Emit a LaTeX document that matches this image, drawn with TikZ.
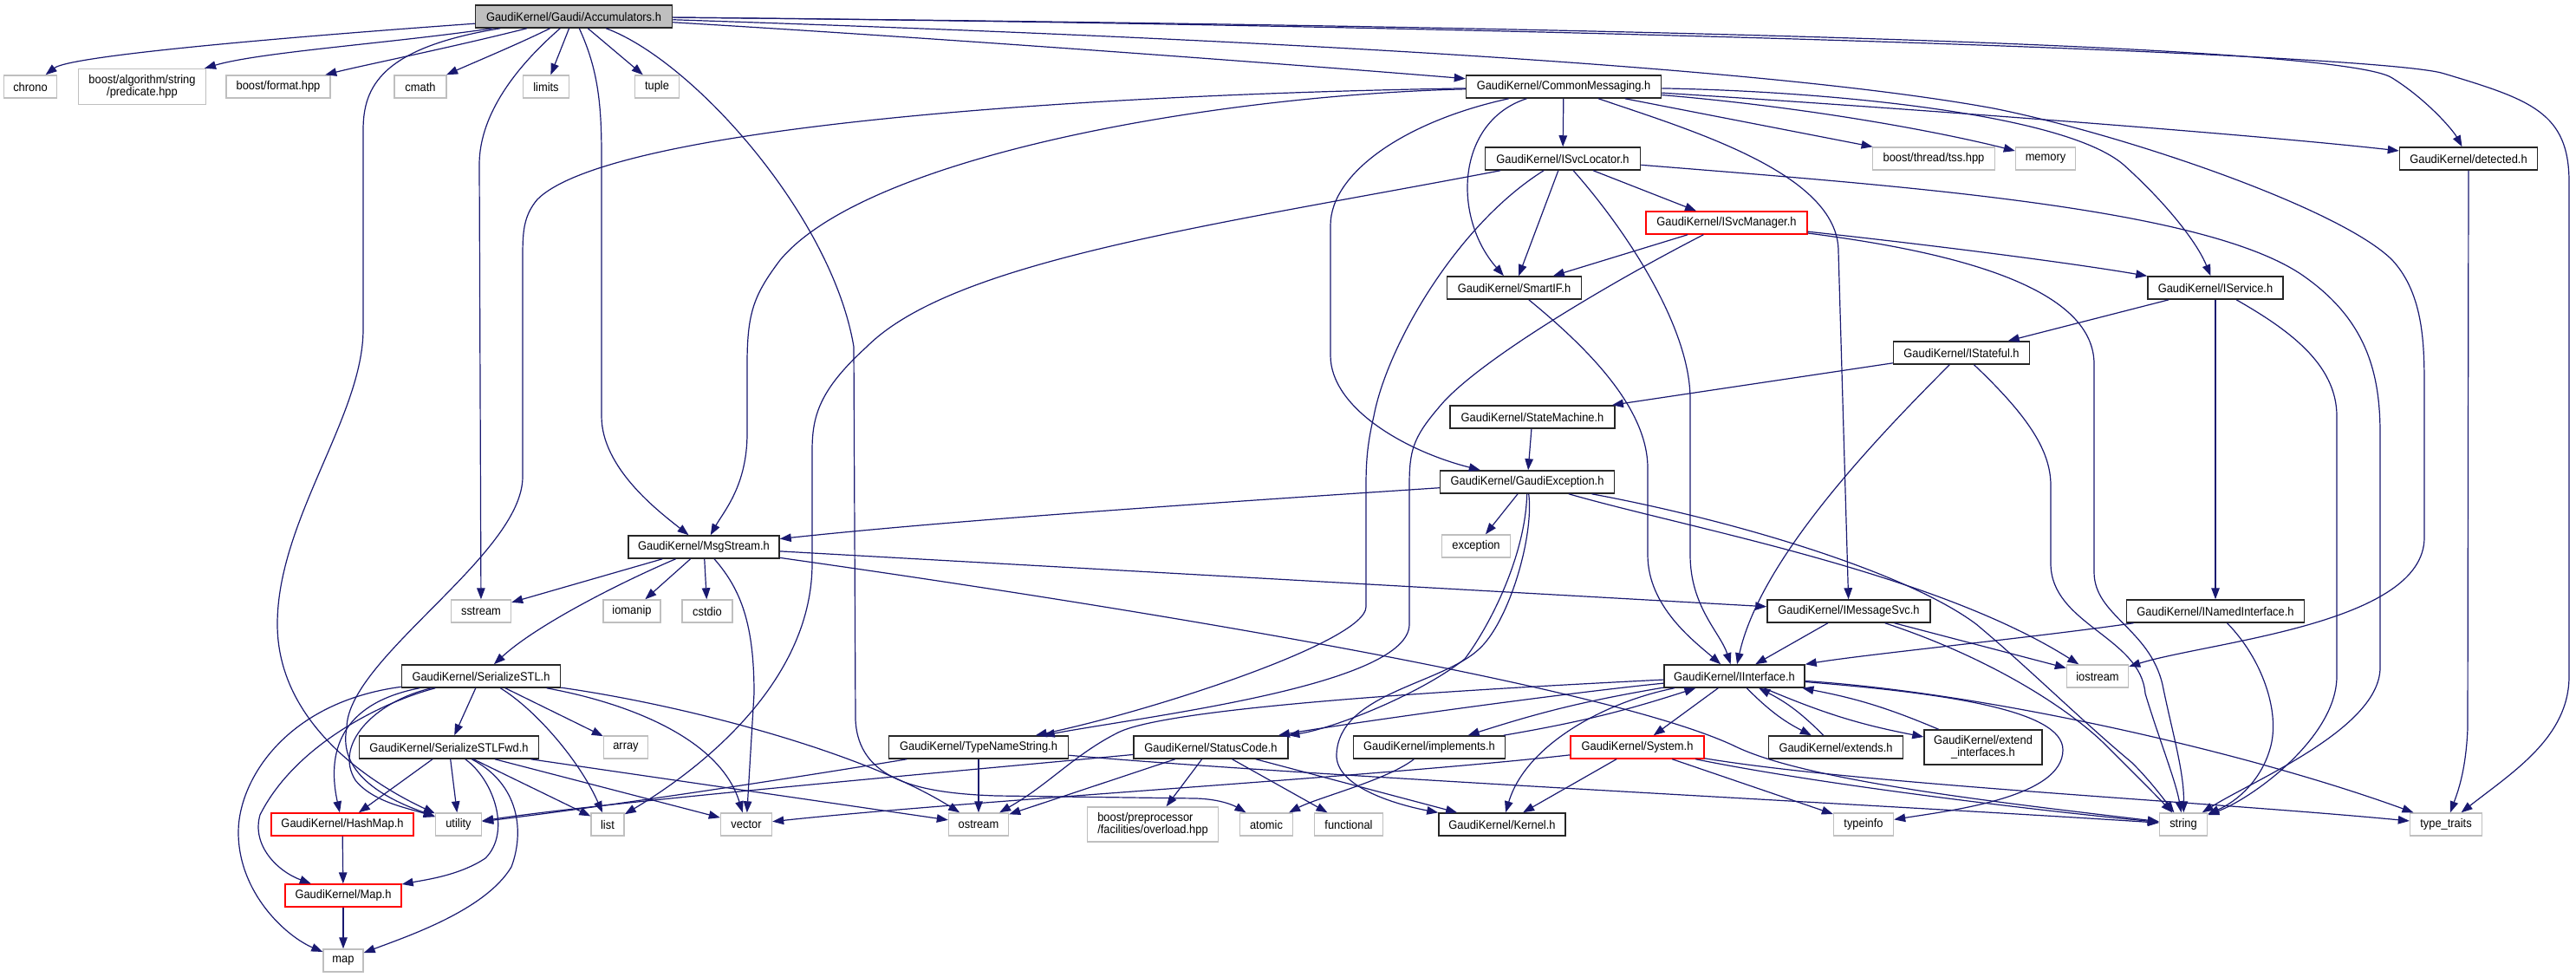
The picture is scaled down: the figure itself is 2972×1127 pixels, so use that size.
\documentclass[tikz,border=0pt]{standalone}
\usepackage{fontspec}
\newfontfamily\dxfont{Liberation Sans}[FakeStretch=0.92]
\usetikzlibrary{arrows.meta}
\definecolor{edgeblue}{HTML}{191970}
\definecolor{extgray}{HTML}{BFBFBF}
\newcommand{\dxf}{\dxfont\fontsize{14pt}{14.5pt}\selectfont}
\begin{document}
\begin{tikzpicture}[x=1pt,y=-1pt,
  nd/.style={draw, fill=white, minimum height=26pt, inner xsep=2pt, inner ysep=1pt, font=\dxf, text=black},
  doc/.style={nd, draw=black!85, line width=1.5pt},
  ext/.style={nd, draw=extgray, line width=1.4pt},
  trunc/.style={nd, draw=red, line width=1.4pt},
  root/.style={doc, fill=extgray},
  e/.style={draw=edgeblue, line width=1.2pt, -{Triangle[length=13pt,width=9.5pt]}},
]
\useasboundingbox (0,0) rectangle (2972,1127);
% ---------------- nodes
\node[root, minimum width=227pt] (acc) at (662,19) {GaudiKernel/Gaudi/Accumulators.h};
\node[ext, minimum width=61pt] (chrono) at (35,100) {chrono};
\node[ext, minimum width=147pt, minimum height=41pt, align=center] (balg) at (164,100) {boost/algorithm/string\\/predicate.hpp};
\node[ext, minimum width=120pt] (bfmt) at (321,100) {boost/format.hpp};
\node[ext, minimum width=60pt] (cmath) at (485,100) {cmath};
\node[ext, minimum width=53pt] (limits) at (630,100) {limits};
\node[ext, minimum width=51pt] (tuple) at (758,100) {tuple};
\node[doc, minimum width=225pt] (cm) at (1804,100) {GaudiKernel/CommonMessaging.h};
\node[doc, minimum width=179pt] (svcloc) at (1803,183) {GaudiKernel/ISvcLocator.h};
\node[ext, minimum width=141pt] (btss) at (2231,183) {boost/thread/tss.hpp};
\node[ext, minimum width=69pt] (memory) at (2360,183) {memory};
\node[doc, minimum width=159pt] (detected) at (2848,183) {GaudiKernel/detected.h};
\node[trunc, minimum width=186pt] (svcmgr) at (1992,257) {GaudiKernel/ISvcManager.h};
\node[doc, minimum width=155pt] (smartif) at (1747,332) {GaudiKernel/SmartIF.h};
\node[doc, minimum width=156pt] (iservice) at (2556,332) {GaudiKernel/IService.h};
\node[doc, minimum width=157pt] (istateful) at (2263,407) {GaudiKernel/IStateful.h};
\node[doc, minimum width=190pt] (statemach) at (1768,481) {GaudiKernel/StateMachine.h};
\node[doc, minimum width=201pt] (gexc) at (1762,556) {GaudiKernel/GaudiException.h};
\node[ext, minimum width=79pt] (exception) at (1703,630) {exception};
\node[doc, minimum width=174pt] (msgstream) at (812,631) {GaudiKernel/MsgStream.h};
\node[ext, minimum width=69pt] (sstream) at (555,705) {sstream};
\node[ext, minimum width=66pt] (iomanip) at (729,705) {iomanip};
\node[ext, minimum width=58pt] (cstdio) at (816,705) {cstdio};
\node[doc, minimum width=188pt] (imsgsvc) at (2133,705) {GaudiKernel/IMessageSvc.h};
\node[doc, minimum width=205pt] (inamed) at (2556,705) {GaudiKernel/INamedInterface.h};
\node[doc, minimum width=183pt] (sstl) at (555,780) {GaudiKernel/SerializeSTL.h};
\node[doc, minimum width=162pt] (iiface) at (2001,780) {GaudiKernel/IInterface.h};
\node[ext, minimum width=71pt] (iostream) at (2420,780) {iostream};
\node[doc, minimum width=207pt] (sstlfwd) at (518,862) {GaudiKernel/SerializeSTLFwd.h};
\node[ext, minimum width=51pt] (array) at (722,862) {array};
\node[doc, minimum width=207pt] (tns) at (1129,862) {GaudiKernel/TypeNameString.h};
\node[doc, minimum width=178pt] (statuscode) at (1397,862) {GaudiKernel/StatusCode.h};
\node[doc, minimum width=175pt] (implements) at (1649,862) {GaudiKernel/implements.h};
\node[trunc, minimum width=154pt] (system) at (1889,862) {GaudiKernel/System.h};
\node[doc, minimum width=155pt] (extends) at (2118,862) {GaudiKernel/extends.h};
\node[doc, minimum width=136pt, minimum height=40pt, align=center] (extif) at (2288,862) {GaudiKernel/extend\\\_interfaces.h};
\node[trunc, minimum width=164pt] (hashmap) at (395,951) {GaudiKernel/HashMap.h};
\node[ext, minimum width=53pt] (utility) at (529,951) {utility};
\node[ext, minimum width=38pt] (list) at (701,951) {list};
\node[ext, minimum width=59pt] (vector) at (861,951) {vector};
\node[ext, minimum width=69pt] (ostream) at (1129,951) {ostream};
\node[ext, minimum width=151pt, minimum height=40pt, align=left] (bpp) at (1330,951) {boost/preprocessor\\/facilities/overload.hpp};
\node[ext, minimum width=61pt] (atomic) at (1461,951) {atomic};
\node[ext, minimum width=79pt] (functional) at (1556,951) {functional};
\node[doc, minimum width=146pt] (kernel) at (1733,951) {GaudiKernel/Kernel.h};
\node[ext, minimum width=69pt] (typeinfo) at (2150,951) {typeinfo};
\node[ext, minimum width=55pt] (string) at (2519,951) {string};
\node[ext, minimum width=83pt] (typetraits) at (2822,951) {type\_traits};
\node[trunc, minimum width=134pt] (mapH) at (396,1033) {GaudiKernel/Map.h};
\node[ext, minimum width=46pt] (map) at (396,1108) {map};
% ---------------- edges: Accumulators
\draw[e] (acc) .. controls (300,45) and (80,65) .. (chrono);
\draw[e] (acc) .. controls (450,50) and (300,60) .. (balg);
\draw[e] (acc) .. controls (520,55) and (420,75) .. (bfmt);
\draw[e] (acc) .. controls (600,50) and (540,75) .. (cmath);
\draw[e] (acc) -- (limits);
\draw[e] (acc) -- (tuple);
\draw[e] (acc) .. controls (440,55) and (419,100) .. (419,150) -- (419,380) .. controls (419,480) and (320,600) .. (320,720) .. controls (320,830) and (420,900) .. (utility);
\draw[e] (acc) .. controls (615,60) and (553,120) .. (553,190) -- (sstream);
\draw[e] (acc) .. controls (690,80) and (694,120) .. (694,180) -- (694,480) .. controls (694,540) and (760,590) .. (msgstream);
\draw[e] (acc) .. controls (800,70) and (960,250) .. (985,400) -- (987,830) .. controls (990,900) and (1060,915) .. (1150,918) -- (1380,921) .. controls (1410,922) and (1425,930) .. (atomic);
\draw[e] (acc) .. controls (1100,45) and (1500,75) .. (cm);
\draw[e] (acc) .. controls (1300,40) and (2000,70) .. (2300,125) .. controls (2450,155) and (2700,240) .. (2760,300) .. controls (2797,340) and (2797,400) .. (2797,450) -- (2797,620) .. controls (2797,720) and (2550,740) .. (iostream);
\draw[e] (acc) .. controls (1800,30) and (2700,50) .. (2760,90) .. controls (2800,115) and (2830,150) .. (detected);
\draw[e] (acc) .. controls (1800,30) and (2750,62) .. (2820,85) .. controls (2920,115) and (2964,130) .. (2964,210) -- (2964,780) .. controls (2964,850) and (2900,890) .. (typetraits);
% CommonMessaging
\draw[e] (cm) -- (svcloc);
\draw[e] (cm) .. controls (1680,140) and (1675,250) .. (smartif);
\draw[e] (cm) .. controls (1400,110) and (1000,180) .. (900,300) .. controls (870,340) and (862,360) .. (862,420) -- (862,500) .. controls (862,560) and (835,590) .. (msgstream);
\draw[e] (cm) .. controls (1200,110) and (700,150) .. (620,230) .. controls (603,250) and (603,270) .. (603,300) -- (603,550) .. controls (603,640) and (400,760) .. (400,840) .. controls (390,890) and (440,920) .. (utility);
\draw[e] (cm) .. controls (1620,140) and (1535,200) .. (1535,260) -- (1535,410) .. controls (1535,470) and (1620,520) .. (gexc);
\draw[e] (cm) .. controls (1950,150) and (2121,200) .. (2121,290) -- (imsgsvc);
\draw[e] (cm) -- (btss);
\draw[e] (cm) .. controls (2100,105) and (2380,130) .. (2450,190) .. controls (2500,235) and (2535,280) .. (iservice);
\draw[e] (cm) .. controls (2200,125) and (2600,155) .. (detected);
\draw[e] (cm) .. controls (2100,125) and (2250,155) .. (memory);
% ISvcLocator
\draw[e] (svcloc) -- (svcmgr);
\draw[e] (svcloc) -- (smartif);
\draw[e] (svcloc) .. controls (1880,270) and (1950,380) .. (1950,460) -- (1950,640) .. controls (1950,700) and (1985,730) .. (iiface);
\draw[e] (svcloc) .. controls (2200,215) and (2550,240) .. (2660,320) .. controls (2730,370) and (2746,430) .. (2746,500) -- (2746,770) .. controls (2746,840) and (2600,900) .. (string);
\draw[e] (svcloc) .. controls (1400,260) and (1100,300) .. (1000,400) .. controls (945,450) and (937,480) .. (937,520) -- (937,650) .. controls (937,780) and (820,880) .. (list);
\draw[e] (svcloc) .. controls (1680,260) and (1600,400) .. (1585,480) .. controls (1578,510) and (1576,530) .. (1576,560) -- (1576,700) .. controls (1576,740) and (1330,820) .. (tns);
% ISvcManager
\draw[e] (svcmgr) -- (smartif);
\draw[e] (svcmgr) .. controls (1850,330) and (1700,420) .. (1660,470) .. controls (1630,505) and (1626,520) .. (1626,560) -- (1626,720) .. controls (1626,790) and (1330,825) .. (tns);
\draw[e] (svcmgr) .. controls (2250,285) and (2400,305) .. (iservice);
\draw[e] (svcmgr) .. controls (2250,290) and (2416,330) .. (2416,420) -- (2416,660) .. controls (2416,710) and (2480,725) .. (2495,790) .. controls (2505,840) and (2520,890) .. (string);
% SmartIF
\draw[e] (smartif) .. controls (1830,400) and (1901,470) .. (1901,540) -- (1901,640) .. controls (1901,700) and (1955,740) .. (iiface);
% IService
\draw[e] (iservice) -- (istateful);
\draw[e] (iservice) -- (inamed);
\draw[e] (iservice) .. controls (2640,380) and (2696,420) .. (2696,480) -- (2696,780) .. controls (2696,850) and (2600,920) .. (string);
% IStateful
\draw[e] (istateful) -- (statemach);
\draw[e] (istateful) .. controls (2150,520) and (2030,650) .. (iiface);
\draw[e] (istateful) .. controls (2340,480) and (2366,520) .. (2366,560) -- (2366,650) .. controls (2366,720) and (2470,735) .. (2475,800) .. controls (2490,850) and (2510,900) .. (string);
% StateMachine
\draw[e] (statemach) -- (gexc);
% GaudiException
\draw[e] (gexc) .. controls (1400,580) and (1100,600) .. (msgstream);
\draw[e] (gexc) -- (exception);
\draw[e] (gexc) .. controls (1770,620) and (1740,720) .. (1705,750) .. controls (1660,790) and (1545,800) .. (1542,870) .. controls (1540,910) and (1620,930) .. (kernel);
\draw[e] (gexc) .. controls (1760,640) and (1720,720) .. (1690,760) .. controls (1640,800) and (1540,840) .. (statuscode);
\draw[e] (gexc) .. controls (1950,610) and (2230,660) .. (iostream);
\draw[e] (gexc) .. controls (2000,600) and (2200,660) .. (2280,720) .. controls (2340,770) and (2400,830) .. (2460,880) .. controls (2480,900) and (2495,920) .. (string);
% MsgStream
\draw[e] (msgstream) -- (sstream);
\draw[e] (msgstream) .. controls (720,670) and (620,720) .. (sstl);
\draw[e] (msgstream) -- (iomanip);
\draw[e] (msgstream) -- (cstdio);
\draw[e] (msgstream) .. controls (855,680) and (870,720) .. (870,800) -- (vector);
\draw[e] (msgstream) -- (imsgsvc);
\draw[e] (msgstream) .. controls (1300,700) and (1850,790) .. (2000,860) .. controls (2080,900) and (2300,925) .. (string);
% IMessageSvc
\draw[e] (imsgsvc) -- (iiface);
\draw[e] (imsgsvc) -- (iostream);
\draw[e] (imsgsvc) .. controls (2300,760) and (2390,820) .. (2430,860) .. controls (2470,900) and (2490,920) .. (string);
% INamedInterface
\draw[e] (inamed) .. controls (2350,735) and (2150,755) .. (iiface);
\draw[e] (inamed) .. controls (2610,760) and (2630,820) .. (2620,860) .. controls (2610,900) and (2580,925) .. (string);
% IInterface
\draw[e] (iiface) -- (system);
\draw[e] (iiface) .. controls (1850,810) and (1760,860) .. (kernel);
\draw[e] (iiface) .. controls (1800,800) and (1550,835) .. (statuscode);
\draw[e] (iiface) .. controls (1700,795) and (1350,815) .. (1290,845) .. controls (1240,870) and (1210,905) .. (ostream);
\draw[e] (iiface) .. controls (2250,800) and (2380,820) .. (2380,865) .. controls (2380,920) and (2250,935) .. (typeinfo);
\draw[e] (iiface) .. controls (2300,800) and (2600,870) .. (typetraits);
\draw[e] (iiface) to[bend right=4] (implements);
\draw[e] (implements) to[bend right=4] (iiface);
\draw[e] (iiface) to[bend right=9] (extends);
\draw[e] (extends) to[bend right=9] (iiface);
\draw[e] (iiface) to[bend right=6] (extif);
\draw[e] (extif) to[bend right=6] (iiface);
% implements
\draw[e] (implements) .. controls (1600,900) and (1520,920) .. (atomic);
% System
\draw[e] (system) -- (kernel);
\draw[e] (system) -- (typeinfo);
\draw[e] (system) .. controls (2100,905) and (2350,935) .. (string);
\draw[e] (system) .. controls (2150,905) and (2550,925) .. (typetraits);
\draw[e] (system) .. controls (1600,895) and (1100,925) .. (vector);
% StatusCode
\draw[e] (statuscode) -- (ostream);
\draw[e] (statuscode) -- (bpp);
\draw[e] (statuscode) -- (functional);
\draw[e] (statuscode) -- (kernel);
\draw[e] (statuscode) .. controls (1100,890) and (700,925) .. (utility);
% TypeNameString
\draw[e] (tns) -- (ostream);
\draw[e] (tns) .. controls (900,900) and (700,930) .. (utility);
\draw[e] (tns) .. controls (1500,895) and (2200,930) .. (string);
% SerializeSTL
\draw[e] (sstl) -- (sstlfwd);
\draw[e] (sstl) -- (array);
\draw[e] (sstl) .. controls (620,820) and (670,880) .. (list);
\draw[e] (sstl) .. controls (720,810) and (830,850) .. (vector);
\draw[e] (sstl) .. controls (800,815) and (1000,870) .. (ostream);
\draw[e] (sstl) .. controls (400,810) and (375,860) .. (hashmap);
\draw[e] (sstl) .. controls (440,810) and (340,860) .. (300,940) .. controls (290,975) and (320,1005) .. (mapH);
\draw[e] (sstl) .. controls (330,810) and (275,900) .. (275,960) .. controls (275,1030) and (330,1080) .. (map);
\draw[e] (sstl) .. controls (430,810) and (385,860) .. (410,900) .. controls (430,925) and (470,932) .. (utility);
% SerializeSTLFwd
\draw[e] (sstlfwd) -- (hashmap);
\draw[e] (sstlfwd) -- (utility);
\draw[e] (sstlfwd) .. controls (570,900) and (590,960) .. (560,990) .. controls (530,1010) and (490,1015) .. (mapH);
\draw[e] (sstlfwd) .. controls (600,905) and (605,960) .. (590,1000) .. controls (560,1050) and (470,1080) .. (map);
\draw[e] (sstlfwd) -- (list);
\draw[e] (sstlfwd) -- (vector);
\draw[e] (sstlfwd) -- (ostream);
% HashMap, Map
\draw[e] (hashmap) -- (mapH);
\draw[e] (mapH) -- (map);
% detected
\draw[e] (detected) -- (2847,840) .. controls (2845,890) and (2835,915) .. (typetraits);
\end{tikzpicture}
\end{document}
